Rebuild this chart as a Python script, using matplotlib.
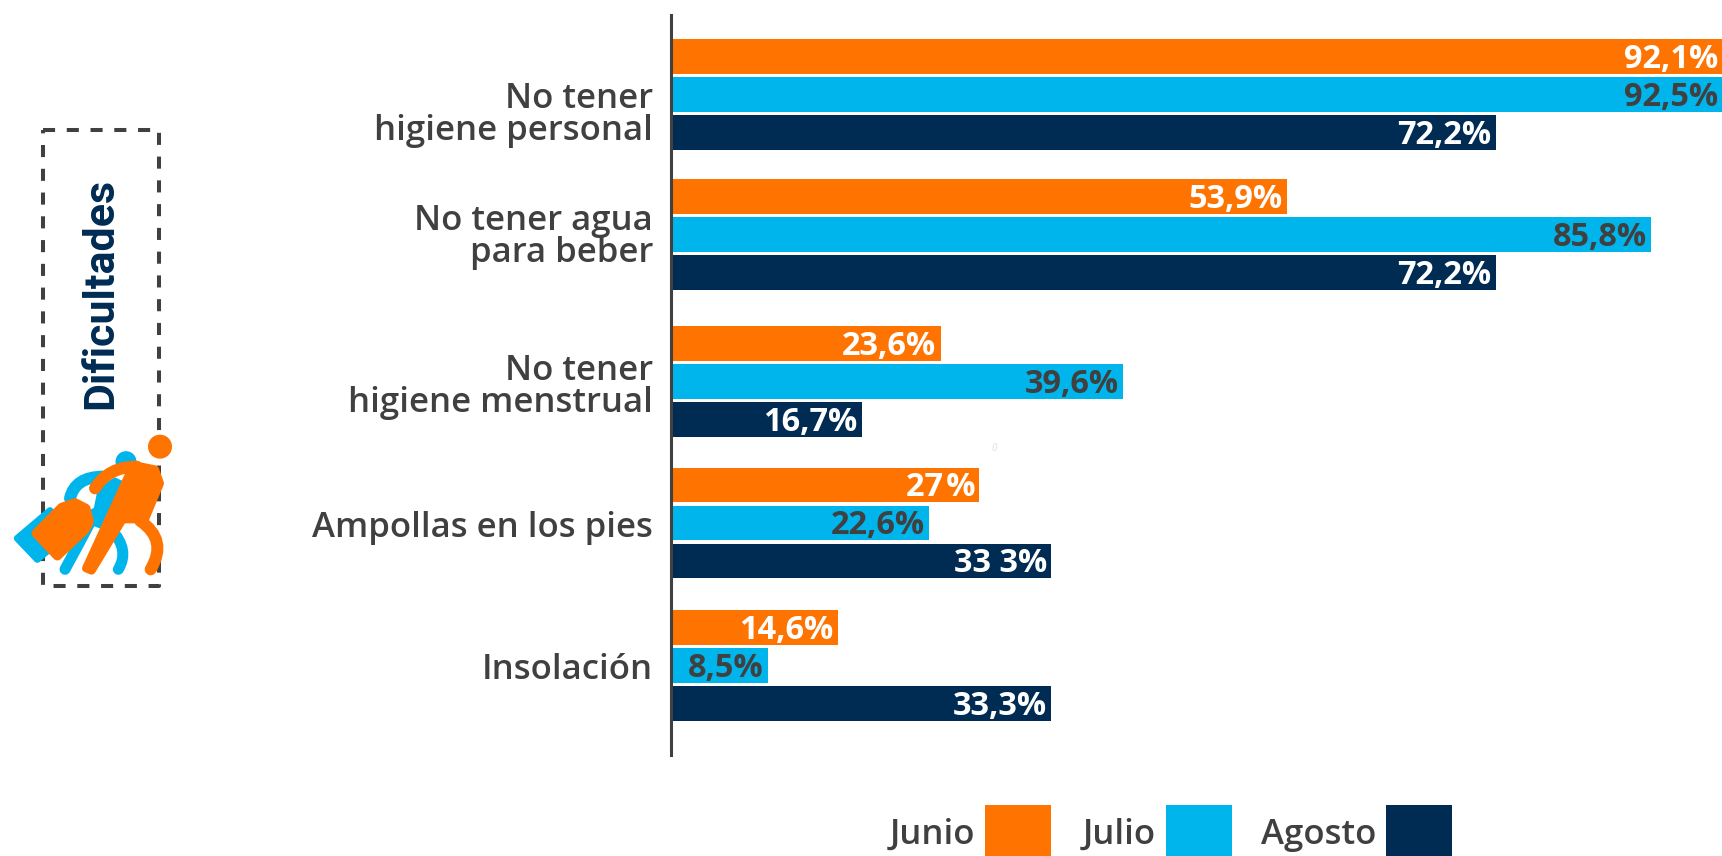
import matplotlib
matplotlib.use('Agg')
import matplotlib.pyplot as plt
from matplotlib.patches import Rectangle, Polygon, Circle, PathPatch
from matplotlib.path import Path

plt.rcParams['font.family'] = ['Open Sans', 'DejaVu Sans']

# Data
categorias = ['No tener\nhigiene personal', 'No tener agua\npara beber', 'No tener\nhigiene menstrual',
              'Ampollas en los pies', 'Insolación']
junio = [92.1, 53.9, 23.6, 27, 14.6]
julio = [92.5, 85.8, 39.6, 22.6, 8.5]
agosto = [72.2, 72.2, 16.7, 33.3, 33.3]

etiquetas_junio = ['92,1%', '53,9%', '23,6%', '27\u200a%', '14,6%']
etiquetas_julio = ['92,5%', '85,8%', '39,6%', '22,6%', '8,5%']
etiquetas_agosto = ['72,2%', '72,2%', '16,7%', '33 3%', '33,3%']

meses = ['Junio', 'Julio', 'Agosto']

NARANJA = '#FF7300'
AZUL = '#00B5EC'
MARINO = '#002B52'
GRIS = '#404040'

# the groups are not evenly spaced in the original
pos_grupos = [94.5, 234.5, 381.5, 523, 665.5]
pos_etiquetas = [112, 234, 384, 524, 666]
alto = 34.5
sep = 38

fig = plt.figure(figsize=(17.22, 8.56), dpi=100)

# Chart axes, y in pixels from the top
ax = fig.add_axes([671 / 1722, 1 - 755 / 856, 1051 / 1722, 740 / 856])
ax.set_xlim(0, 1051 / 11.42)
ax.set_ylim(755, 15)

series = [(junio, etiquetas_junio, NARANJA, -sep, 'white'),
          (julio, etiquetas_julio, AZUL, 0, GRIS),
          (agosto, etiquetas_agosto, MARINO, sep, 'white')]

xmax = ax.get_xlim()[1]
for valores, etiquetas, color, desp, color_txt in series:
    ys = [p + desp for p in pos_grupos]
    ax.barh(ys, valores, height=alto, color=color)
    for y, v, et in zip(ys, valores, etiquetas):
        ax.annotate(et, xy=(min(v, xmax), y), xytext=(-3, 1), textcoords='offset points',
                    ha='right', va='center_baseline', color=color_txt, fontsize=23.4, fontweight='bold')

ax.set_yticks(pos_etiquetas)
ax.set_yticklabels(categorias, fontsize=25, fontweight=600, color=GRIS, linespacing=0.92, ha='right')
ax.tick_params(axis='y', length=0, pad=13)
ax.set_xticks([])
for lado in ['top', 'right', 'bottom']:
    ax.spines[lado].set_visible(False)
ax.spines['left'].set_linewidth(2.2)
ax.spines['left'].set_color(GRIS)

# Overlay in pixel coordinates for legend, box and icon
ov = fig.add_axes([0, 0, 1, 1], zorder=3)
ov.set_xlim(0, 1722)
ov.set_ylim(856, 0)
ov.axis('off')

# Legend
cuadros = [985, 1166, 1386]
colores = [NARANJA, AZUL, MARINO]
for mes, x0, c in zip(meses, cuadros, colores):
    ov.add_patch(Rectangle((x0, 805), 65.5, 52, color=c, lw=0))
    ov.text(x0 - 10, 835, mes, ha='right', va='center', fontsize=25, fontweight=600, color=GRIS)

# Dashed box
ov.add_patch(Rectangle((43, 130), 116, 456, fill=False, ec=GRIS, lw=2.9, ls=(0, (3.0, 2.9)),
                       joinstyle='round'))
ov.text(101, 293, 'Dificultades', rotation=90, ha='center', va='center', fontsize=31,
        family='Roboto', fontweight='bold', color=MARINO)
ov.text(994, 448, '0', fontsize=7, style='italic', color='#dddddd', ha='center', va='center')


def z(x, y):
    return (x / 3, 100 + y / 3)


def curva(p0, p1, p2, color, w=11):
    path = Path([z(*p0), z(*p1), z(*p2)], [Path.MOVETO, Path.CURVE3, Path.CURVE3])
    ov.add_patch(PathPatch(path, fill=False, ec=color, lw=w * 0.72, capstyle='round'))


def poli(puntos, color, w=4):
    ov.add_patch(Polygon([z(*p) for p in puntos], closed=True, fc=color, ec=color,
                         lw=w * 0.72, joinstyle='round'))


# Icon, blue part
ov.add_patch(Circle(z(378, 1085), 10.5, color=AZUL, lw=0))
curva((210, 1195), (225, 1130), (310, 1130), AZUL, 12)
poli([(300, 1170), (345, 1140), (375, 1155), (320, 1285), (280, 1270)], AZUL, 5)
curva((195, 1408), (235, 1335), (285, 1240), AZUL, 11)
curva((355, 1408), (390, 1350), (335, 1290), AZUL, 11)
poli([(150, 1232), (52, 1315), (112, 1378), (205, 1300)], AZUL, 7)

# Icon, orange part
poli([(108, 1300), (185, 1222), (225, 1208), (258, 1225), (268, 1265), (255, 1290), (172, 1368)], NARANJA, 9)
ov.add_patch(Circle(z(480, 1040), 12, color=NARANJA, lw=0))
curva((285, 1165), (325, 1100), (410, 1100), NARANJA, 12)
poli([(400, 1095), (465, 1108), (480, 1150), (435, 1258), (368, 1258), (275, 1412), (258, 1405)], NARANJA, 8)
curva((452, 1408), (505, 1320), (420, 1262), NARANJA, 12)

fig.savefig('out.png', dpi=100)
